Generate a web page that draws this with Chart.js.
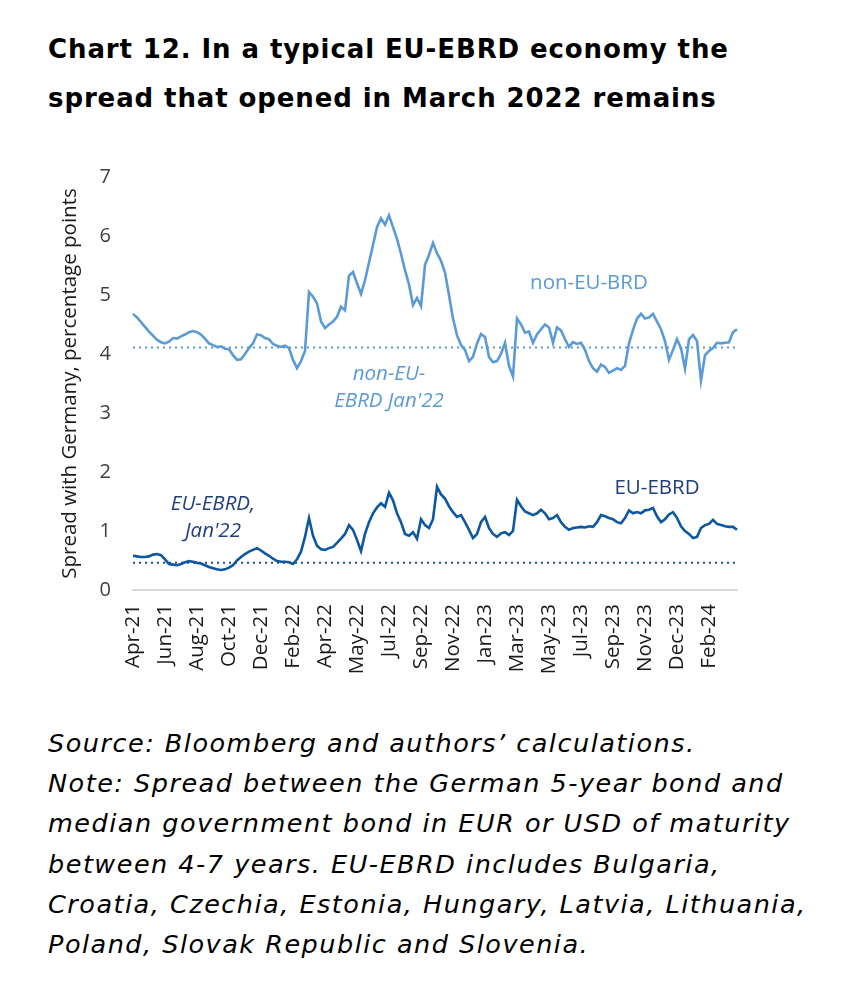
<!DOCTYPE html>
<html>
<head>
<meta charset="utf-8">
<script src="https://cdn.jsdelivr.net/npm/chart.js@4.4.1/dist/chart.umd.min.js"></script>
<style>
  body { margin: 0; background: #fff; width: 864px; height: 990px; position: relative; overflow: hidden; }
  #title { position: absolute; left: 48px; top: 25px; font-family: "DejaVu Sans", sans-serif; font-weight: 600; font-size: 26px; line-height: 49px; color: #000; letter-spacing: 0.9px; white-space: nowrap; }
  #note { position: absolute; left: 48px; top: 723px; font-family: "DejaVu Sans", sans-serif; font-style: italic; font-size: 25.5px; line-height: 40.2px; color: #000; letter-spacing: 1.5px; white-space: nowrap; }
  #wrap { position: absolute; left: 0; top: 150px; width: 864px; height: 570px; }
</style>
</head>
<body>
<div id="title">Chart 12. In a typical EU-EBRD economy the<br>spread that opened in March 2022 remains</div>
<div id="wrap"><canvas id="myChart"></canvas></div>
<div id="note">Source: Bloomberg and authors’ calculations.<br>Note: Spread between the German 5-year bond and<br>median government bond in EUR or USD of maturity<br>between 4-7 years. EU-EBRD includes Bulgaria,<br>Croatia, Czechia, Estonia, Hungary, Latvia, Lithuania,<br>Poland, Slovak Republic and Slovenia.</div>
<script>
// tick labels, one every 8 points
const tickLabels = ["Apr-21", "Jun-21", "Aug-21", "Oct-21", "Dec-21", "Feb-22", "Apr-22", "May-22", "Jul-22", "Sep-22",
    "Nov-22", "Jan-23", "Mar-23", "May-23", "Jul-23", "Sep-23", "Nov-23", "Dec-23", "Feb-24"];
const step = 8;

// non-EU-EBRD spread, percentage points
const nonEU = [4.68, 4.62, 4.54, 4.46, 4.38, 4.31, 4.24, 4.20, 4.18, 4.21,
    4.27, 4.26, 4.30, 4.33, 4.37, 4.39, 4.37, 4.33, 4.26, 4.18,
    4.15, 4.12, 4.13, 4.09, 4.08, 3.98, 3.90, 3.91, 4.00, 4.10,
    4.18, 4.33, 4.32, 4.27, 4.25, 4.17, 4.14, 4.12, 4.14, 4.10,
    3.90, 3.76, 3.88, 4.05, 5.05, 4.97, 4.86, 4.55, 4.44, 4.50,
    4.55, 4.63, 4.80, 4.74, 5.33, 5.39, 5.20, 5.02, 5.25, 5.55,
    5.85, 6.15, 6.30, 6.19, 6.35, 6.15, 5.95, 5.70, 5.42, 5.18,
    4.83, 4.95, 4.81, 5.51, 5.68, 5.88, 5.71, 5.58, 5.38, 5.00,
    4.60, 4.32, 4.15, 4.07, 3.88, 3.95, 4.18, 4.34, 4.29, 3.95,
    3.86, 3.88, 4.00, 4.19, 3.80, 3.62, 4.60, 4.50, 4.36, 4.38,
    4.19, 4.33, 4.42, 4.50, 4.45, 4.19, 4.45, 4.40, 4.25, 4.12,
    4.20, 4.17, 4.19, 4.07, 3.88, 3.76, 3.70, 3.82, 3.78, 3.68,
    3.72, 3.76, 3.73, 3.80, 4.18, 4.41, 4.60, 4.68, 4.60, 4.62,
    4.68, 4.55, 4.42, 4.22, 3.90, 4.07, 4.25, 4.10, 3.75, 4.25,
    4.32, 4.22, 3.55, 3.98, 4.05, 4.10, 4.19, 4.18, 4.19, 4.20,
    4.37, 4.42];

// EU-EBRD spread, percentage points
const euEBRD = [0.58, 0.57, 0.56, 0.56, 0.57, 0.60, 0.61, 0.59, 0.52, 0.44,
    0.43, 0.42, 0.44, 0.47, 0.49, 0.48, 0.46, 0.45, 0.42, 0.39,
    0.37, 0.35, 0.34, 0.35, 0.38, 0.42, 0.50, 0.56, 0.61, 0.65,
    0.68, 0.71, 0.67, 0.62, 0.58, 0.53, 0.49, 0.48, 0.48, 0.47,
    0.44, 0.52, 0.65, 0.90, 1.22, 0.92, 0.75, 0.69, 0.68, 0.71,
    0.73, 0.80, 0.87, 0.95, 1.10, 1.02, 0.85, 0.66, 0.95, 1.15,
    1.30, 1.40, 1.47, 1.41, 1.65, 1.52, 1.30, 1.15, 0.95, 0.92,
    0.98, 0.87, 1.20, 1.10, 1.05, 1.20, 1.75, 1.62, 1.55, 1.42,
    1.32, 1.24, 1.27, 1.15, 1.02, 0.88, 0.95, 1.15, 1.24, 1.05,
    0.95, 0.90, 0.96, 0.98, 0.93, 1.00, 1.53, 1.42, 1.33, 1.30,
    1.27, 1.30, 1.36, 1.30, 1.20, 1.22, 1.27, 1.15, 1.07, 1.02,
    1.05, 1.06, 1.07, 1.06, 1.08, 1.07, 1.15, 1.27, 1.25, 1.22,
    1.20, 1.15, 1.13, 1.22, 1.35, 1.30, 1.32, 1.30, 1.35, 1.36,
    1.39, 1.25, 1.15, 1.20, 1.28, 1.32, 1.22, 1.08, 1.00, 0.95,
    0.88, 0.90, 1.05, 1.10, 1.12, 1.19, 1.12, 1.10, 1.08, 1.07,
    1.07, 1.02];

// Jan'22 reference levels
const nonEUJan22 = 4.11;
const euJan22 = 0.46;

const labels = nonEU.map((v, i) => (i % step === 0 && tickLabels[i / step]) ? tickLabels[i / step] : "");

// in-chart labels, placed at (point index, value)
const notes = [
    { text: ["non-EU-BRD"], x: 114, y: 5.2, color: "#5b9bd5", italic: false },
    { text: ["non-EU-", "EBRD Jan'22"], x: 64, y: 3.65, color: "#5b9bd5", italic: true },
    { text: ["EU-EBRD,", "Jan'22"], x: 20, y: 1.45, color: "#1f3f7f", italic: true },
    { text: ["EU-EBRD"], x: 131, y: 1.73, color: "#1f3f7f", italic: false }
];

const notePlugin = {
    id: "notes",
    afterDatasetsDraw(chart) {
        const ctx = chart.ctx;
        const xs = chart.scales.x, ys = chart.scales.y;
        ctx.save();
        ctx.textAlign = "center";
        ctx.textBaseline = "middle";
        for (let n of notes) {
            ctx.font = (n.italic ? "italic " : "") + "20.5px 'Open Sans'";
            ctx.fillStyle = n.color;
            n.text.forEach((t, k) => {
                ctx.fillText(t, xs.getPixelForValue(n.x), ys.getPixelForValue(n.y) + k * 27);
            });
        }
        ctx.restore();
    }
};

new Chart("myChart", {
    type: "line",
    data: {
        labels: labels,
        datasets: [
            { data: nonEU.map(() => nonEUJan22), borderColor: "#5b9bd5", borderWidth: 2, borderDash: [2, 4], pointRadius: 0 },
            { data: euEBRD.map(() => euJan22), borderColor: "#1f4e9a", borderWidth: 2, borderDash: [2, 4], pointRadius: 0 },
            { data: nonEU, borderColor: "#5b9bd5", borderWidth: 2.6, pointRadius: 0, tension: 0 },
            { data: euEBRD, borderColor: "#0b57a0", borderWidth: 2.6, pointRadius: 0, tension: 0 }
        ]
    },
    options: {
        responsive: true,
        maintainAspectRatio: false,
        animation: false,
        layout: { padding: { left: 58, right: 127, top: 27, bottom: 0 } },
        plugins: { legend: { display: false }, tooltip: { enabled: false } },
        scales: {
            x: {
                grid: { display: false },
                border: { color: "#d9d9d9", width: 2 },
                ticks: {
                    autoSkip: false, maxRotation: 90, minRotation: 90, padding: 6,
                    color: "#1a1a1a", font: { family: "'Open Sans'", size: 20.5 }
                },
                afterFit(scale) { scale.height = 130; }
            },
            y: {
                min: 0, max: 7,
                grid: { display: false },
                border: { display: false },
                ticks: { stepSize: 1, padding: 14, color: "#404040", font: { family: "'Open Sans'", size: 20 } },
                title: { display: true, text: "Spread with Germany, percentage points", color: "#1a1a1a", font: { family: "'Open Sans'", size: 20.5 }, padding: 0 },
                afterFit(scale) { scale.width = 75; }
            }
        }
    },
    plugins: [notePlugin]
});
</script>
</body>
</html>
